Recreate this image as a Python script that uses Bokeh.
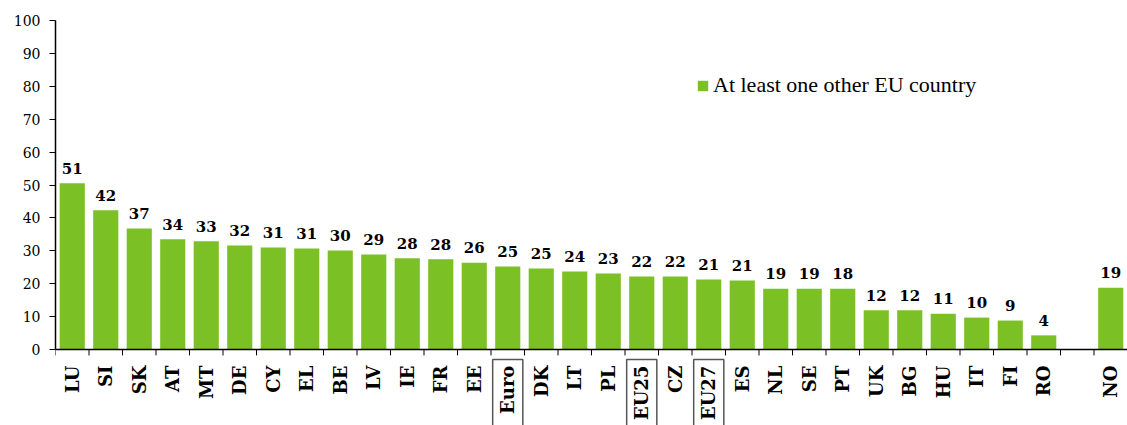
from bokeh.plotting import figure
from bokeh.models import (FactorRange, Range1d, SingleIntervalTicker, Span, Legend,
                          LegendItem, ColumnDataSource)
from bokeh.transform import dodge
from bokeh.core.properties import value
from bokeh.embed import file_html
from bokeh.resources import INLINE
import math

# ---- data ----
countries = ["LU", "SI", "SK", "AT", "MT", "DE", "CY", "EL", "BE", "LV", "IE", "FR", "EE",
             "Euro", "DK", "LT", "PL", "EU25", "CZ", "EU27", "ES", "NL", "SE", "PT", "UK",
             "BG", "HU", "IT", "FI", "RO", "", "NO"]
shares = [50.5, 42.3, 36.8, 33.5, 32.9, 31.6, 31.0, 30.7, 30.1, 28.9, 27.7, 27.4, 26.4,
          25.2, 24.6, 23.7, 23.1, 22.2, 22.2, 21.3, 21.0, 18.5, 18.5, 18.5, 11.9,
          11.9, 10.9, 9.7, 8.8, 4.3, float("nan"), 18.8]
value_labels = ["51", "42", "37", "34", "33", "32", "31", "31", "30", "29", "28", "28", "26",
                "25", "25", "24", "23", "22", "22", "21", "21", "19", "19", "18", "12",
                "12", "11", "10", "9", "4", "", "19"]
boxed = ["Euro", "EU25", "EU27"]
series_name = "At least one other EU country"
y_ticks_interval = 10

GREEN = "#7BC125"
SERIF = "DejaVu Serif"

src = ColumnDataSource(dict(cat=countries, share=shares, lbl=value_labels))

p = figure(width=1127, height=425,
           x_range=FactorRange(factors=countries),
           y_range=Range1d(-23.1, 100),
           output_backend="svg", toolbar_location=None,
           x_axis_location=None,
           min_border_left=55, min_border_right=0, min_border_top=20, min_border_bottom=0,
           outline_line_color=None)
p.grid.visible = False

bars = p.vbar(x="cat", top="share", width=0.75, source=src, fill_color=GREEN, line_color=None)

# value labels
p.text(x="cat", y="share", text="lbl", source=src, text_align="center",
       text_baseline="alphabetic", y_offset=-15,
       text_font=value(SERIF), text_font_style="bold", text_font_size="15px",
       text_color="black")

# baseline (x axis line)
p.add_layout(Span(location=0, dimension="width", line_color="black", line_width=1.5))

# ticks at category boundaries
p.segment(x0=dodge("cat", -0.5, range=p.x_range), y0=0,
          x1=dodge("cat", -0.5, range=p.x_range), y1=-1.8,
          source=src, line_color="black", line_width=1)

# category labels
p.text(x="cat", y=-4.9, text="cat", source=src, angle=math.pi / 2,
       text_align="right", text_baseline="middle",
       text_font=value(SERIF), text_font_style="bold", text_font_size="18px",
       text_color="black")

# boxes round aggregate labels
bsrc = ColumnDataSource(dict(cat=boxed))
p.rect(x="cat", y=-18.04, width=0.9, height=30, source=bsrc,
       fill_color=None, line_color="#555555", line_width=1.5)

# y axis
ax = p.yaxis[0]
ax.ticker = SingleIntervalTicker(interval=y_ticks_interval, num_minor_ticks=0)
ax.bounds = (0, 100)
ax.major_tick_in = 0
ax.major_tick_out = 6
ax.minor_tick_line_color = None
ax.axis_line_width = 1.5
ax.axis_line_color = "black"
ax.major_tick_line_color = "black"
ax.major_label_standoff = 9
ax.major_label_text_font = SERIF
ax.major_label_text_font_size = "14px"
ax.major_label_text_color = "black"

legend = Legend(items=[LegendItem(label=series_name, renderers=[bars])],
                location=(641, 327), border_line_color=None, background_fill_alpha=0,
                padding=0, margin=0, glyph_width=13, glyph_height=13, label_standoff=4,
                label_height=13,
                label_text_font="Liberation Serif", label_text_font_size="22px",
                label_text_color="black")
p.add_layout(legend)

open("out.html", "w").write(file_html(p, INLINE))
